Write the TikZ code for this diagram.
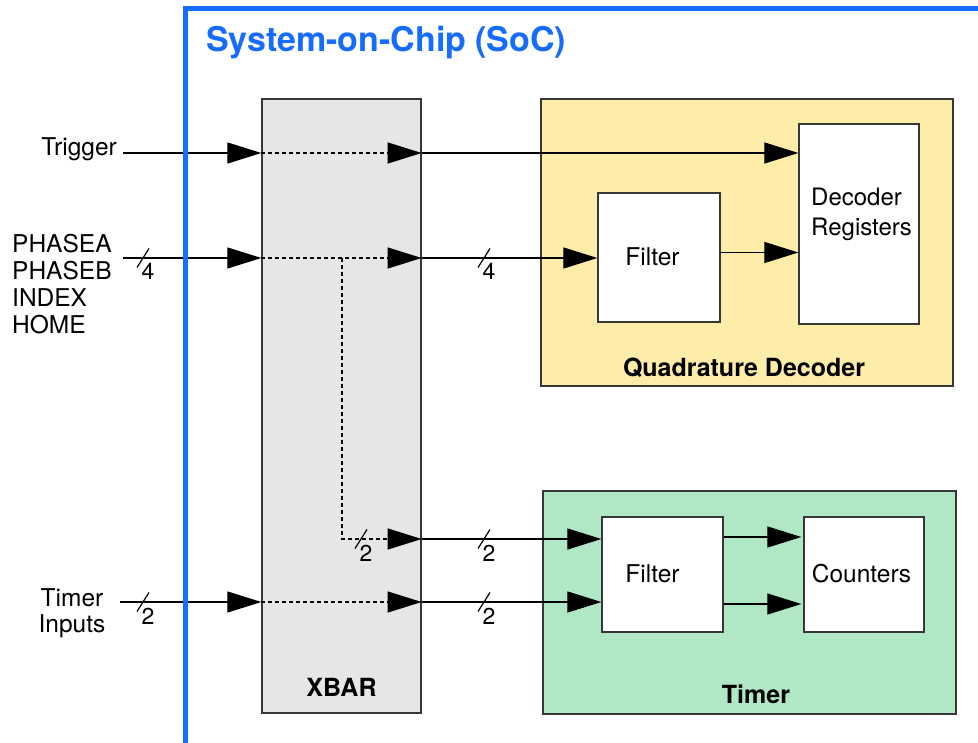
\documentclass[tikz,border=0pt]{standalone}
\usepackage{fontspec}
\setmainfont{TeX Gyre Heros}
\usetikzlibrary{arrows.meta}
\definecolor{socblue}{RGB}{22,108,255}
\definecolor{qdyellow}{RGB}{254,237,168}
\definecolor{tmgreen}{RGB}{176,232,198}
\definecolor{xgray}{RGB}{230,230,230}
\definecolor{edgegray}{RGB}{55,55,55}
\newcommand\busmark[4]{%
  \draw[wire] (#1-6,#2+9.5) -- (#1+6,#2-9.5);
  \node[busnum, anchor=base] (#4) at (#1+5,#2+22) {#3};}
\begin{document}
\begin{tikzpicture}[x=1pt,y=-1pt,
  box/.style={draw=edgegray, line width=1.3pt, rectangle, inner sep=0pt},
  wire/.style={line width=1.2pt, black},
  sig/.style={wire, -{Triangle[length=34pt,width=21pt]}},
  dsig/.style={sig, dash pattern=on 4pt off 3pt},
  lbl/.style={font=\fontsize{24.5}{27}\selectfont, inner sep=0pt},
  blbl/.style={font=\fontsize{25}{28}\selectfont\bfseries, inner sep=0pt},
  busnum/.style={font=\fontsize{23}{25}\selectfont, inner sep=0pt},
]
\useasboundingbox (0,0) rectangle (978,743);
\begin{scope}
\clip (0,0) rectangle (978,743);

% blocks
\node[box, fill=xgray, minimum width=159pt, minimum height=614pt] (xbar) at (341.5,406) {};
\node[blbl, anchor=base] (xbarlbl) at (341.5,696) {XBAR};

\node[box, fill=qdyellow, minimum width=412pt, minimum height=287pt] (qd) at (747,242.5) {};
\node[box, fill=white, minimum width=122pt, minimum height=129pt] (qf) at (659,257.5) {};
\node[box, fill=white, minimum width=120pt, minimum height=200pt] (dr) at (859,224) {};
\node[lbl, anchor=base] (qftxt) at (652.5,266) {Filter};
\node[lbl, align=left, anchor=west, font=\fontsize{24}{30}\selectfont] (drtxt) at (811,214) {Decoder\\Registers};
\node[blbl, anchor=base] (qdlbl) at (744,377) {Quadrature Decoder};

\node[box, fill=tmgreen, minimum width=413pt, minimum height=223pt] (tm) at (749.5,602.5) {};
\node[box, fill=white, minimum width=121pt, minimum height=115pt] (tf) at (662.5,574.5) {};
\node[box, fill=white, minimum width=120pt, minimum height=115pt] (ct) at (864,574.5) {};
\node[lbl, anchor=base] (tftxt) at (652.5,582) {Filter};
\node[lbl, anchor=base] (cttxt) at (861.5,582) {Counters};
\node[blbl, anchor=base] (tmlbl) at (756,703) {Timer};

% external labels
\node[lbl, anchor=base east] (trig) at (117,156) {Trigger};
\node[lbl, align=left, anchor=west] (phase) at (12,284) {PHASEA\\PHASEB\\INDEX\\HOME};
\node[lbl, align=center, font=\fontsize{24.5}{26}\selectfont] (tmins) at (72,613) {Timer\\Inputs};

% row coordinates
\coordinate (trigin) at (123,153);
\coordinate (phin) at (123,258);
\coordinate (tmin) at (120,602);
\coordinate (brk) at (342,258);
\coordinate (brc) at (342,539);
\path (qf.east) ++(0,-5) coordinate (qfo);

% Trigger row
\draw[sig] (trigin) -- (xbar.west |- trigin);
\draw[dsig] (xbar.west |- trigin) -- (xbar.east |- trigin);
\draw[sig] (xbar.east |- trigin) -- (dr.west |- trigin);

% Phase row
\draw[sig] (phin) -- (xbar.west |- phin);
\draw[dsig] (xbar.west |- phin) -- (xbar.east |- phin);
\draw[sig] (xbar.east |- phin) -- (qf.west |- phin);
\draw[sig] (qfo) -- (dr.west |- qfo);

% Branch to timer
\draw[dsig] (brk) -- (brc) -- (xbar.east |- brc);
\draw[sig] (xbar.east |- brc) -- (tf.west |- brc);

% Timer inputs row
\draw[sig] (tmin) -- (xbar.west |- tmin);
\draw[dsig] (xbar.west |- tmin) -- (xbar.east |- tmin);
\draw[sig] (xbar.east |- tmin) -- (tf.west |- tmin);

% Filter -> Counters
\draw[sig, shorten >=2pt] (tf.east |- 0,537) -- (ct.west |- 0,537);
\draw[sig, shorten >=2pt] (tf.east |- 0,604) -- (ct.west |- 0,604);

% bus width marks
\busmark{143}{258}{4}{bw1}
\busmark{484}{258}{4}{bw2}
\busmark{361}{539}{2}{bw3}
\busmark{484}{539}{2}{bw4}
\busmark{143}{602}{2}{bw5}
\busmark{484}{602}{2}{bw6}

% SoC border and title
\draw[socblue, line width=5pt] (185.5,760) -- (185.5,8.5) -- (1000,8.5);
\node[anchor=base west, inner sep=0pt, text=socblue, font=\fontsize{34}{38}\selectfont\bfseries] (title) at (206,52) {System-on-Chip (SoC)};
\end{scope}
\end{tikzpicture}
\end{document}
